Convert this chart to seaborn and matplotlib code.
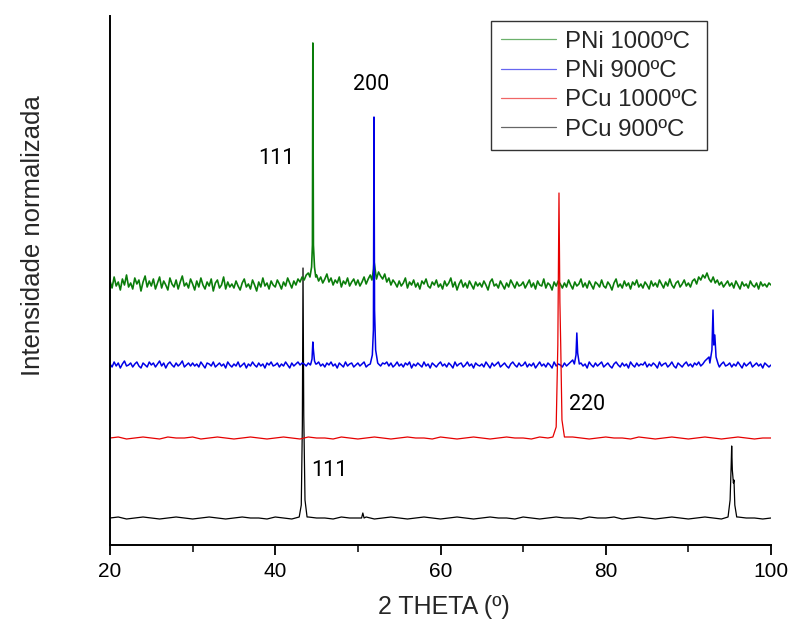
import numpy as np
import pandas as pd
import matplotlib
matplotlib.use("Agg")
import matplotlib.pyplot as plt
import seaborn as sns

# ---------------- data (y = normalised intensity incl. stacking offset) ----
labels = ["PNi 1000ºC", "PNi 900ºC", "PCu 1000ºC", "PCu 900ºC"]
colors = ["#0a7d0a", "#0000e6", "#e60000", "#000000"]

# PNi 1000ºC : background read every 0.25º from 20 to 100
green_bg = [264, 257, 268, 259, 263, 255, 266, 260, 270, 258, 262, 256, 267, 261, 265, 254, 263, 269, 258, 264,
            259, 266, 256, 262, 268, 257, 264, 260, 255, 267, 261, 258, 265, 256, 263, 269, 259, 262, 257, 266,
            261, 255, 264, 258, 267, 260, 256, 263, 259, 266, 254, 262, 265, 257, 260, 268, 256, 263, 258, 261,
            257, 264, 259, 255, 262, 266, 258, 261, 256, 265, 260, 254, 263, 258, 267, 259, 262, 256, 264, 260,
            258, 265, 261, 256, 263, 259, 267, 262, 257, 264, 260, 266, 263, 268, 265, 270, 272, 275, 278, 276,
            270, 264, 268, 262, 266, 271, 263, 267, 260, 265, 262, 268, 258, 264, 261, 267, 259, 263, 266, 260,
            265, 259, 263, 268, 261, 266, 270, 264, 272, 276, 273, 269, 266, 271, 263, 267, 260, 265, 262, 258,
            264, 259, 262, 267, 257, 263, 260, 265, 258, 262, 256, 264, 261, 266, 259, 257, 263, 260, 265, 258,
            261, 256, 264, 259, 262, 267, 258, 263, 255, 261, 265, 258, 262, 257, 264, 260, 256, 263, 259, 262,
            258, 264, 260, 255, 263, 266, 259, 261, 257, 264, 260, 256, 262, 258, 265, 261, 257, 263, 259, 260,
            263, 257, 261, 265, 258, 262, 256, 264, 260, 259, 266, 257, 262, 260, 255, 263, 259, 264, 261, 257,
            262, 258, 265, 260, 256, 263, 259, 261, 266, 258, 262, 257, 264, 260, 256, 263, 261, 258, 265, 259,
            257, 263, 260, 255, 262, 266, 258, 261, 257, 264, 259, 262, 256, 263, 260, 265, 258, 261, 257, 263,
            260, 256, 264, 259, 262, 258, 265, 261, 257, 263, 259, 266, 260, 257, 262, 264, 258, 261, 265, 259,
            262, 258, 264, 266, 261, 268, 265, 270, 267, 272, 266, 263, 268, 262, 265, 260, 263, 258, 261, 264,
            259, 262, 257, 264, 260, 256, 263, 259, 261, 257, 264, 260, 258, 262, 256, 263, 259, 261, 258, 262,
            260]
green_peaks_x = [[44.2, 44.4, 44.5, 44.55, 44.62, 44.75, 44.9],
                 [51.7, 51.9, 51.95, 52.05, 52.25]]
green_peaks_y = [[268, 278, 300, 502, 300, 278, 268],
                 [265, 276, 284, 278, 266]]

# PNi 900ºC : background read every 0.25º
blue_bg = [181, 178, 183, 179, 182, 177, 181, 184, 179, 180, 182, 178, 181, 183, 179, 177, 182, 180, 178, 183,
           180, 182, 178, 181, 184, 179, 182, 177, 181, 183, 180, 178, 182, 179, 181, 184, 178, 180, 182, 179,
           182, 179, 181, 178, 183, 180, 177, 182, 181, 179, 183, 178, 180, 182, 179, 181, 177, 183, 180, 178,
           181, 179, 183, 178, 180, 182, 177, 181, 179, 183, 180, 178, 182, 179, 181, 177, 182, 180, 183, 179,
           180, 182, 178, 181, 179, 183, 180, 177, 182, 179, 181, 183, 180, 182, 181, 179, 182, 180, 186, 183,
           181, 183, 179, 181, 178, 182, 180, 183, 179, 181, 177, 182, 180, 178, 183, 179, 181, 182, 178, 180,
           182, 179, 181, 183, 178, 180, 182, 179, 184, 186, 181, 179, 182, 181, 183, 179, 182, 178, 180, 183,
           179, 181, 178, 182, 180, 183, 177, 181, 179, 182, 180, 178, 183, 179, 181, 177, 182, 180, 178, 181,
           183, 179, 181, 178, 182, 180, 177, 183, 179, 181, 182, 178, 180, 183, 179, 181, 177, 182, 180, 179,
           181, 178, 183, 180, 177, 182, 179, 181, 183, 178, 180, 182, 179, 177, 181, 183, 180, 178, 182, 179,
           180, 183, 178, 181, 179, 182, 177, 180, 183, 179, 181, 178, 182, 180, 177, 183, 179, 181, 180, 178,
           182, 179, 181, 183, 185, 182, 178, 180, 182, 179, 181, 177, 183, 180, 178, 182, 179, 181, 183, 178,
           180, 182, 179, 177, 181, 183, 180, 178, 182, 179, 181, 177, 183, 180, 178, 182, 179, 181, 180, 183,
           178, 181, 179, 182, 180, 177, 183, 179, 181, 182, 178, 180, 183, 179, 177, 182, 180, 178, 181, 183,
           179, 181, 178, 182, 180, 183, 179, 181, 184, 186, 188, 186, 183, 180, 182, 178, 181, 183, 179, 180,
           182, 178, 181, 179, 183, 180, 177, 182, 179, 181, 183, 178, 180, 182, 179, 181, 177, 182, 180, 178,
           180]
blue_peaks_x = [[44.3, 44.45, 44.55, 44.62, 44.75, 44.9],
                [51.5, 51.75, 51.88, 51.95, 52.02, 52.15, 52.4],
                [76.2, 76.4, 76.5, 76.6, 76.8],
                [92.6, 92.85, 92.98, 93.08, 93.2, 93.35, 93.6]]
blue_peaks_y = [[181, 186, 203, 195, 184, 181],
                [181, 190, 215, 428, 235, 195, 182],
                [181, 190, 212, 192, 181],
                [182, 195, 235, 200, 210, 188, 181]]

# PCu 1000ºC : background read every 1º
red_bg = [107, 108, 106, 107, 108, 107, 106, 108, 107, 107,
          108, 106, 107, 108, 107, 106, 107, 108, 107, 106,
          107, 108, 107, 106, 108, 107, 107, 106, 108, 107,
          106, 107, 108, 107, 106, 107, 108, 107, 107, 106,
          108, 107, 106, 107, 108, 107, 106, 107, 108, 107,
          107, 106, 108, 107, 106, 107, 108, 107, 106, 107,
          108, 107, 107, 106, 108, 107, 106, 107, 108, 107,
          106, 107, 108, 107, 106, 107, 108, 107, 106, 107,
          107]
red_peaks_x = [[73.6, 74.0, 74.2, 74.34, 74.45, 74.55, 74.7, 75.0]]
red_peaks_y = [[108, 118, 200, 352, 243, 200, 125, 108]]

# PCu 900ºC : background read every 1º
black_bg = [27, 28, 26, 27, 28, 27, 26, 27, 28, 27,
            26, 27, 28, 27, 26, 27, 28, 27, 27, 26,
            28, 27, 26, 27, 28, 27, 27, 26, 28, 27,
            27, 28, 26, 27, 28, 27, 26, 27, 28, 27,
            26, 27, 28, 27, 26, 27, 28, 27, 27, 26,
            28, 27, 26, 27, 28, 27, 27, 26, 28, 27,
            27, 28, 26, 27, 28, 27, 26, 27, 28, 27,
            26, 27, 28, 27, 26, 27, 28, 27, 27, 26,
            27]
black_peaks_x = [[42.9, 43.15, 43.28, 43.36, 43.45, 43.6, 43.85],
                 [50.45, 50.6, 50.75],
                 [94.8, 95.05, 95.18, 95.24, 95.32, 95.45, 95.52, 95.62, 95.85]]
black_peaks_y = [[28, 40, 120, 277, 130, 45, 28],
                 [27, 32, 27],
                 [28, 45, 80, 99, 75, 62, 65, 40, 28]]

peak_labels = ["111", "200", "220", "111"]
peak_label_x = [40.1, 51.6, 77.7, 46.5]
peak_label_y = [386, 460, 141, 74]


def build(bg, px_list, py_list, name):
    x = np.linspace(20, 100, len(bg))
    y = np.asarray(bg, dtype=float)
    keep = np.ones(len(x), bool)
    for px in px_list:
        keep &= ~((x >= min(px)) & (x <= max(px)))
    xs = np.concatenate([x[keep]] + [np.asarray(p, float) for p in px_list])
    ys = np.concatenate([y[keep]] + [np.asarray(p, float) for p in py_list])
    order = np.argsort(xs)
    return pd.DataFrame({"theta": xs[order], "I": ys[order], "serie": name})


dfs = {
    labels[0]: build(green_bg, green_peaks_x, green_peaks_y, labels[0]),
    labels[1]: build(blue_bg, blue_peaks_x, blue_peaks_y, labels[1]),
    labels[2]: build(red_bg, red_peaks_x, red_peaks_y, labels[2]),
    labels[3]: build(black_bg, black_peaks_x, black_peaks_y, labels[3]),
}

# ---------------- plotting ----------------
sns.set_style("ticks")
plt.rcParams["font.family"] = ["Liberation Sans", "DejaVu Sans"]

fig = plt.figure(figsize=(7.9, 6.3), dpi=100)
ax = fig.add_axes([110 / 790, 1 - 545 / 630, 661 / 790, 529 / 630])

draw_order = [3, 0, 1, 2]
widths = {0: 1.2, 1: 1.1, 2: 0.9, 3: 0.9}
for i in draw_order:
    name = labels[i]
    sns.lineplot(data=dfs[name], x="theta", y="I", ax=ax, color=colors[i],
                 linewidth=widths[i], estimator=None, sort=False, label=name)

handles, labs = ax.get_legend_handles_labels()
hmap = dict(zip(labs, handles))
leg = ax.legend([hmap[l] for l in labels], labels, loc="upper right",
                bbox_to_anchor=(0.903, 0.99), borderaxespad=0, fontsize=17.3,
                frameon=True, fancybox=False, edgecolor="black",
                handlelength=2.3, handletextpad=0.35, labelspacing=0.3,
                borderpad=0.4)
leg.get_frame().set_linewidth(1.0)
for h in leg.get_lines():
    h.set_linewidth(0.9)
    h.set_alpha(0.6)

for t, x, y in zip(peak_labels, peak_label_x, peak_label_y):
    ax.text(x, y, t, fontsize=15.5, ha="center", va="center", color="black",
            family=["Roboto", "Liberation Sans"])

ax.set_xlim(20, 100)
ax.set_ylim(0, 529)
ax.set_xticks([20, 40, 60, 80, 100])
ax.set_xticks([30, 50, 70, 90], minor=True)
ax.set_yticks([])
ax.tick_params(axis="x", which="major", direction="out", length=7.5, width=1.3,
               labelsize=15, pad=5, colors="black")
ax.tick_params(axis="x", which="minor", direction="out", length=5, width=1.3)
for s in ["top", "right"]:
    ax.spines[s].set_visible(False)
for s in ["left", "bottom"]:
    ax.spines[s].set_linewidth(1.4)
    ax.spines[s].set_color("black")

ax.set_xlabel("2 THETA (º)", fontsize=18)
ax.set_ylabel("Intensidade normalizada", fontsize=18.5)
ax.xaxis.set_label_coords(0.505, -0.094)
ax.yaxis.set_label_coords(-0.098, 0.584)

fig.savefig("out.png", dpi=100, facecolor="white")
